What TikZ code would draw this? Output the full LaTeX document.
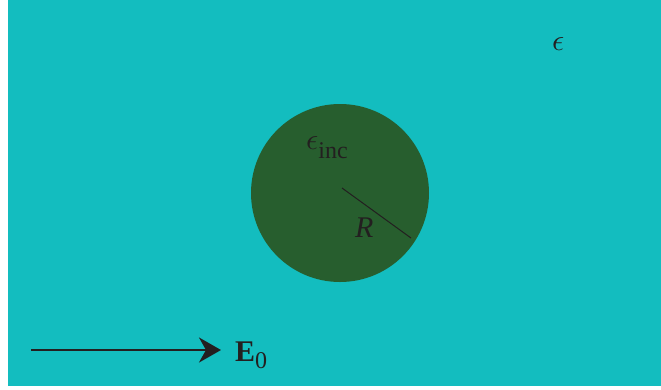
\documentclass[tikz,border=0pt]{standalone}
\usepackage{graphicx}
\usepackage{fontspec}
\setmainfont{Liberation Serif}
\usetikzlibrary{arrows.meta}
\definecolor{bgteal}{HTML}{13BDBF}
\definecolor{incgreen}{HTML}{275E2E}
\definecolor{ink}{HTML}{231F20}
\newcommand{\bigfont}{\fontsize{30}{32}\selectfont}
\newcommand{\subfont}{\fontsize{24}{26}\selectfont}
\newcommand{\bigeps}{\scalebox{3}{\fontsize{10}{12}\selectfont$\epsilon$}}
\tikzset{
  lbl/.style={text=ink, font=\bigfont, inner sep=0pt},
  field/.style={draw=ink, line width=2.4pt, -{Stealth[length=22pt, width=25pt, inset=7pt]}}
}
\begin{document}
\begin{tikzpicture}[x=1pt,y=-1pt]
\useasboundingbox (0,0) rectangle (661,389);
\fill[white] (0,0) rectangle (661,389);
\fill[bgteal] (8,0) rectangle (661,386);
\node[circle, fill=incgreen, minimum size=178pt, inner sep=0pt] (inc) at (340,193) {};
\coordinate (c) at (342,188);
\coordinate (rim) at (411,238);
\draw[ink, line width=1pt] (c) -- (rim);
\node[lbl, anchor=base west] (epsinc) at (306,149) {\bigeps\raisebox{-9pt}{\subfont inc}};
\node[lbl, anchor=base west] (R) at (355,237) {\itshape R};
\node[lbl, anchor=base west] (eps) at (552,50) {\bigeps};
\coordinate (a0) at (31,350);
\node[lbl, anchor=base west] (E0) at (235,361) {\bfseries E\raisebox{-7pt}{\subfont\mdseries 0}};
\draw[field] (a0) -- (221,350);
\end{tikzpicture}
\end{document}
